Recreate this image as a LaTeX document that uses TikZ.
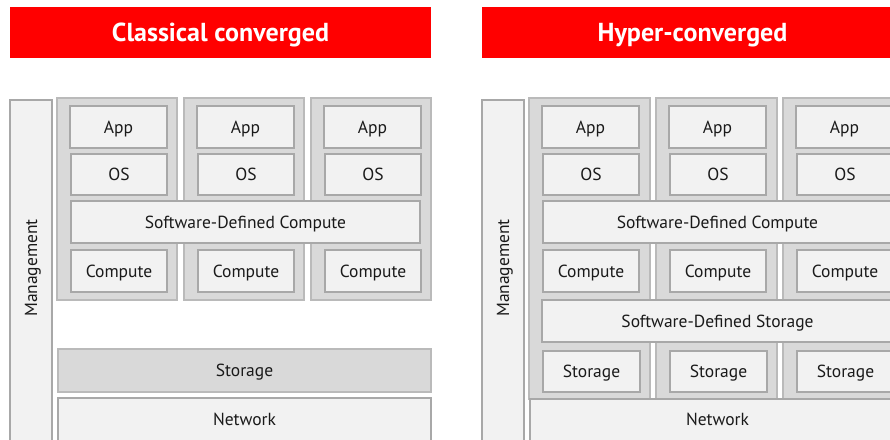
\documentclass[tikz,border=0pt]{standalone}
\usepackage{fontspec}
\setmainfont{PT Sans}
\definecolor{bannerred}{HTML}{FF0000}
\definecolor{colfill}{HTML}{D9D9D9}
\definecolor{colline}{HTML}{BABABA}
\definecolor{cellfill}{HTML}{F2F2F2}
\definecolor{cellline}{HTML}{A8A8A8}
\definecolor{ink}{HTML}{1A1A1A}
% a rectangle node given by its corners: name, style, x1, y1, x2, y2, text
\newcommand\blk[7]{\node[#2, minimum width={(#5)-(#3)}, minimum height={(#6)-(#4)}]
  (#1) at ({((#3)+(#5))/2},{((#4)+(#6))/2}) {#7};}
\tikzset{
  base/.style={rectangle, inner sep=0pt, outer sep=0pt, line width=1.2pt, text=ink,
    text height=16.3pt, text depth=4pt, font=\fontsize{17.5}{19}\selectfont},
  banner/.style={base, fill=bannerred, draw=none, text=white, text height=24pt, text depth=5.8pt,
    font=\fontsize{26}{28}\selectfont\bfseries},
  column/.style={base, fill=colfill, draw=colline},
  cell/.style={base, fill=cellfill, draw=cellline},
  shelf/.style={base, fill=colfill, draw=colline},
}
\begin{document}
\begin{tikzpicture}[x=1pt, y=-1pt]
\useasboundingbox (0,0) rectangle (890,439);
\clip (0,0) rectangle (890,439);

% ---------- classical converged ----------
\blk{tl}{banner}{10}{7}{431}{58}{Classical converged}
\blk{ml}{cell}{10}{100}{52}{460}{}
\node[base, rotate=90] (mlt) at (31,268) {Management};
\foreach \i/\x in {1/57, 2/184, 3/311} {
  \blk{lc\i}{column}{\x}{98}{\x+120}{300}{}
  \blk{lapp\i}{cell}{\x+13}{106}{\x+110}{148}{App}
  \blk{los\i}{cell}{\x+14}{154}{\x+110}{195}{OS}
  \blk{lcmp\i}{cell}{\x+14}{250}{\x+110}{292}{Compute}
}
\blk{lsdc}{cell}{71}{201}{420}{243}{Software-Defined Compute}
\blk{lsto}{shelf}{58}{349}{431}{392}{Storage}
\blk{lnet}{cell}{58}{398}{431}{460}{}
\node[base] (lnett) at (244.5,419) {Network};

% ---------- hyper-converged ----------
\blk{tr}{banner}{482}{7}{903}{58}{Hyper-converged}
\blk{mr}{cell}{482}{100}{524}{460}{}
\node[base, rotate=90] (mrt) at (503,268) {Management};
\foreach \i/\x in {1/529, 2/656, 3/783} {
  \blk{rc\i}{column}{\x}{98}{\x+121}{399}{}
  \blk{rapp\i}{cell}{\x+13}{106}{\x+110}{148}{App}
  \blk{ros\i}{cell}{\x+14}{154}{\x+110}{195}{OS}
  \blk{rcmp\i}{cell}{\x+14}{250}{\x+110}{292}{Compute}
  \blk{rsto\i}{cell}{\x+14}{351}{\x+111}{392}{Storage}
}
\blk{rsdc}{cell}{543}{201}{892}{243}{Software-Defined Compute}
\blk{rsds}{cell}{542}{300}{893}{342}{Software-Defined Storage}
\blk{rnet}{cell}{530}{399}{905}{460}{}
\node[base] (rnett) at (717.5,419) {Network};
\end{tikzpicture}
\end{document}
